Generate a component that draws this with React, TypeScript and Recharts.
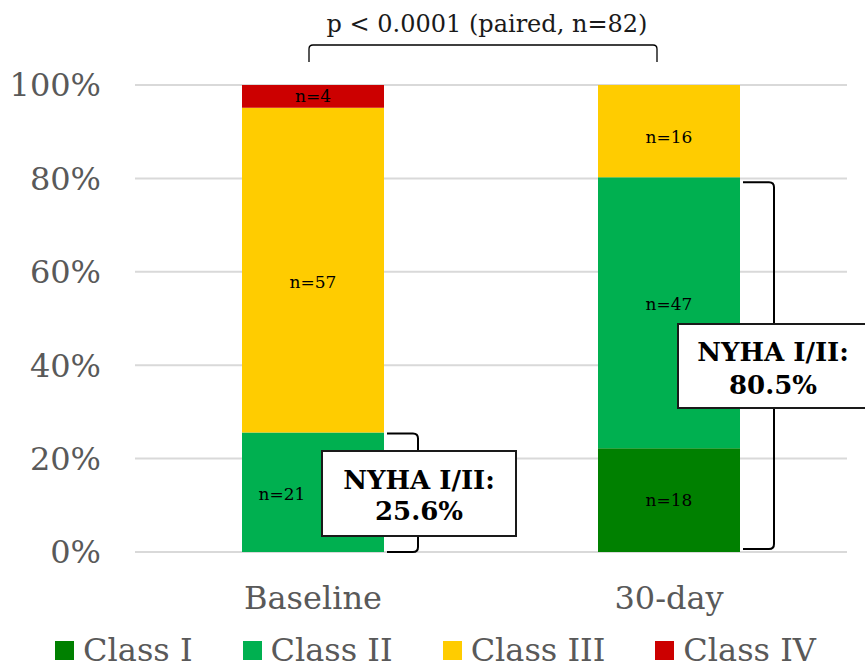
import React from 'react';
import {
  BarChart,
  Bar,
  XAxis,
  YAxis,
  CartesianGrid,
  Legend,
  LabelList,
} from 'recharts';

const categories = ['Baseline', '30-day'];
const classI = [0, 18];
const classII = [21, 47];
const classIII = [57, 16];
const classIV = [4, 0];
const yTicks = [0, 0.2, 0.4, 0.6, 0.8, 1];
const nyhaLabels = ['25.6%', '80.5%'];
const pValueText = 'p < 0.0001 (paired, n=82)';

const series = [
  { key: 'c1', name: 'Class I', color: '#008000' },
  { key: 'c2', name: 'Class II', color: '#00B050' },
  { key: 'c3', name: 'Class III', color: '#FFCC00' },
  { key: 'c4', name: 'Class IV', color: '#CC0000' },
];

const data = categories.map((name, i) => ({
  name,
  c1: classI[i],
  c2: classII[i],
  c3: classIII[i],
  c4: classIV[i],
}));

const W = 865;
const H = 669;
const FONT = '"DejaVu Serif", Georgia, serif';
const GRAY = '#595959';

// plot geometry, used by the chart margins and the annotation overlay
const PLOT = { left: 135, right: 847, top: 85, bottom: 552 };
const BAR_W = 142;
const yOf = (frac: number) => PLOT.bottom - frac * (PLOT.bottom - PLOT.top);
const bandW = (PLOT.right - PLOT.left) / categories.length;
const barRight = (i: number) => PLOT.left + bandW * (i + 0.5) + BAR_W / 2;

// hand-nudged label positions (as in the original slide)
const labelNudge: Record<string, [number, number][]> = {
  c1: [[0, 0], [0, 0]],
  c2: [[-31, 2], [0, -9]],
  c3: [[0, 12], [0, 6]],
  c4: [[0, 0], [0, 0]],
};

const countLabel = (key: string) => (props: any) => {
  const { x, y, width, height, value, index } = props;
  if (!value) return null;
  const [dx, dy] = labelNudge[key][index] || [0, 0];
  return (
    <text
      x={x + width / 2 + dx}
      y={y + height / 2 + dy}
      textAnchor="middle"
      dominantBaseline="central"
      fontSize={17}
      fontFamily={FONT}
      fill="#000"
    >
      {`n=${value}`}
    </text>
  );
};

const LegendContent = () => (
  <div
    style={{
      display: 'flex',
      justifyContent: 'center',
      gap: 50,
      height: 40,
      alignItems: 'center',
      fontFamily: FONT,
      fontSize: 32,
      color: GRAY,
      paddingLeft: 6,
    }}
  >
    {series.map((s) => (
      <div key={s.key} style={{ display: 'flex', alignItems: 'center' }}>
        <span style={{ width: 19, height: 19, background: s.color, marginRight: 9 }} />
        <span>{s.name}</span>
      </div>
    ))}
  </div>
);

function bracket(x0: number, x1: number, yTop: number, yBot: number, r = 5) {
  return `M${x0},${yTop} L${x1 - r},${yTop} Q${x1},${yTop} ${x1},${yTop + r} L${x1},${yBot - r} Q${x1},${yBot} ${x1 - r},${yBot} L${x0},${yBot}`;
}

function Annotations() {
  const totals = categories.map((_, i) => classI[i] + classII[i] + classIII[i] + classIV[i]);
  const good = categories.map((_, i) => (classI[i] + classII[i]) / totals[i]);
  const boxes = [
    { x: 322, y: 451, w: 194, h: 85, cx: 419, l1: 489, l2: 520 },
    { x: 678, y: 324, w: 192, h: 84, cx: 773, l1: 361, l2: 394 },
  ];
  return (
    <svg
      width={W}
      height={H}
      style={{ position: 'absolute', left: 0, top: 0, pointerEvents: 'none' }}
    >
      <text x={487} y={32} textAnchor="middle" fontFamily={FONT} fontSize={24} fill="#1a1a1a">
        {pValueText}
      </text>
      <path
        d="M309,62 L309,49 Q309,45 313,45 L653,45 Q657,45 657,49 L657,62"
        fill="none"
        stroke="#000"
        strokeWidth={1.3}
      />
      {categories.map((_, i) => {
        const x0 = barRight(i) + 3;
        const yTop = yOf(good[i]) + (i === 1 ? 5 : 1);
        const yBot = PLOT.bottom - (i === 1 ? 3 : 0);
        const b = boxes[i];
        return (
          <g key={i}>
            <path d={bracket(x0, x0 + 31, yTop, yBot)} fill="none" stroke="#000" strokeWidth={2} />
            <rect x={b.x} y={b.y} width={b.w} height={b.h} fill="#fff" stroke="#1a1a1a" strokeWidth={2} />
            <text x={b.cx} y={b.l1} textAnchor="middle" fontFamily={FONT} fontWeight="bold" fontSize={26} fill="#000">
              NYHA I/II:
            </text>
            <text x={b.cx} y={b.l2} textAnchor="middle" fontFamily={FONT} fontWeight="bold" fontSize={26} fill="#000">
              {nyhaLabels[i]}
            </text>
          </g>
        );
      })}
    </svg>
  );
}

export default function App() {
  return (
    <div style={{ position: 'absolute', left: 0, top: 0, width: W, height: H, fontFamily: FONT, background: '#fff' }}>
      <BarChart
        width={W}
        height={H}
        data={data}
        stackOffset="expand"
        margin={{ top: PLOT.top, right: W - PLOT.right, left: 0, bottom: 17 }}
      >
        <CartesianGrid vertical={false} stroke="#d9d9d9" strokeWidth={2} />
        <XAxis
          dataKey="name"
          axisLine={false}
          tickLine={false}
          tickSize={0}
          tickMargin={34}
          height={60}
          tick={{ fontSize: 32, fill: GRAY, fontFamily: FONT }}
        />
        <YAxis
          width={PLOT.left}
          domain={[0, 1]}
          ticks={yTicks}
          tickFormatter={(v: number) => `${Math.round(v * 100)}%`}
          axisLine={false}
          tickLine={false}
          tickSize={0}
          tickMargin={34}
          tick={{ fontSize: 32, fill: GRAY, fontFamily: FONT }}
        />
        <Legend content={<LegendContent />} wrapperStyle={{ top: 630, left: 0, width: W }} />
        {series.map((s) => (
          <Bar
            key={s.key}
            dataKey={s.key}
            name={s.name}
            stackId="a"
            fill={s.color}
            barSize={BAR_W}
            isAnimationActive={false}
          >
            <LabelList dataKey={s.key} content={countLabel(s.key)} />
          </Bar>
        ))}
      </BarChart>
      <Annotations />
    </div>
  );
}
